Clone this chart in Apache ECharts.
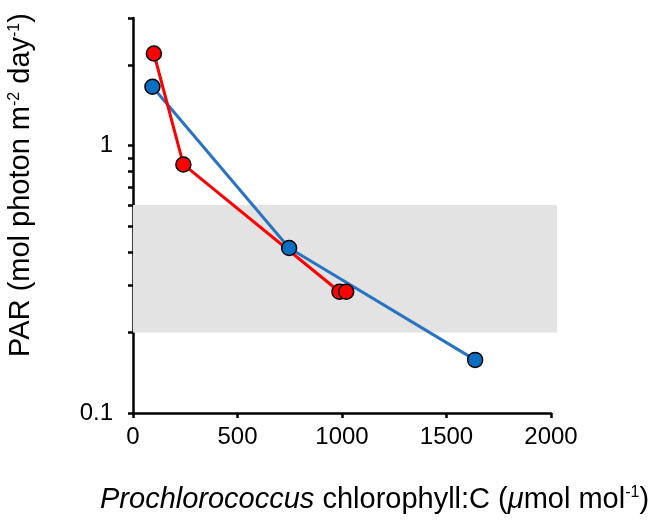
<!DOCTYPE html>
<html>
<head>
<meta charset="utf-8">
<script src="https://cdn.jsdelivr.net/npm/echarts@6/dist/echarts.min.js"></script>
<style>
  html, body { margin: 0; padding: 0; background: #fff; }
  #chart { width: 657px; height: 522px; }
</style>
</head>
<body>
<div id="chart"></div>
<script>
// chlorophyll:C (x) vs PAR (y)
var redX = [100, 241, 988, 1020];
var redY = [2.21, 0.85, 0.284, 0.284];
var blueX = [93, 747, 1637];
var blueY = [1.66, 0.414, 0.158];
// shaded PAR range
var bandX = [0, 2030];
var bandY = [0.2, 0.6];
var xTicks = [0, 500, 1000, 1500, 2000];
var yTicks = [0.1, 0.2, 0.3, 0.4, 0.5, 0.6, 0.7, 0.8, 0.9, 1, 2, 3];
var yLabels = [0.1, 1];

function pairs(xs, ys) {
  var out = [];
  for (var i = 0; i < xs.length; i++) out.push([xs[i], ys[i]]);
  return out;
}

var font = '"Liberation Sans", Arial, Helvetica, sans-serif';
var chart = echarts.init(document.getElementById('chart'));

var option = {
  animation: false,
  grid: [
    { left: 133, top: 18, width: 418, height: 395 },
    { left: 133, top: 18, width: 424, height: 395 }   // band grid, a bit wider
  ],
  xAxis: [
    {
      type: 'value', gridIndex: 0, min: xTicks[0], max: xTicks[xTicks.length - 1], interval: 500,
      axisLine: { lineStyle: { color: '#000', width: 2.5 } },
      axisTick: { length: 5, lineStyle: { color: '#000', width: 2.5 } },
      axisLabel: {
        color: '#000', fontSize: 24, fontFamily: font, margin: 12,
        formatter: function (v) { return String(v); }
      },
      splitLine: { show: false }
    },
    { type: 'value', gridIndex: 1, min: bandX[0], max: bandX[1], show: false }
  ],
  yAxis: [
    {
      type: 'log', gridIndex: 0, logBase: 10, min: 0.1, max: 3,
      axisLine: { lineStyle: { color: '#000', width: 2.5 } },
      axisTick: { length: 5, customValues: yTicks, lineStyle: { color: '#000', width: 2.5 } },
      axisLabel: {
        color: '#000', fontSize: 24, fontFamily: font, margin: 20,
        customValues: yLabels,
        formatter: function (v) { return String(+(+v).toPrecision(3)); }
      },
      splitLine: { show: false },
      minorTick: { show: false }
    },
    { type: 'log', gridIndex: 1, logBase: 10, min: 0.1, max: 3, show: false }
  ],
  graphic: [
    {
      type: 'text', left: 100, top: 485,
      style: {
        text: '{i|Prochlorococcus} chlorophyll:C ({i|\u03bc}mol mol{s|-1})',
        font: '29px ' + font, fill: '#000',
        rich: {
          i: { fontStyle: 'italic', fontSize: 29, fontFamily: font, fill: '#000' },
          s: { fontSize: 16, fontFamily: font, verticalAlign: 'top', fill: '#000' }
        }
      }
    },
    {
      type: 'text', x: 21, y: 185, rotation: Math.PI / 2,
      style: {
        text: 'PAR (mol photon m{s|-2} day{s|-1})',
        font: '29px ' + font, fill: '#000',
        align: 'center', verticalAlign: 'middle',
        rich: {
          s: { fontSize: 16, fontFamily: font, verticalAlign: 'top', fill: '#000' }
        }
      }
    }
  ],
  series: [
    {
      type: 'line', xAxisIndex: 1, yAxisIndex: 1, data: [], z: 1,
      markArea: {
        silent: true,
        itemStyle: { color: '#e3e3e3' },
        data: [[{ coord: [bandX[0], bandY[0]] }, { coord: [bandX[1], bandY[1]] }]]
      }
    },
    {
      name: 'blue line', type: 'line', data: pairs(blueX, blueY), z: 2,
      showSymbol: false, lineStyle: { color: '#2a73c2', width: 3 }
    },
    {
      name: 'red line', type: 'line', data: pairs(redX, redY), z: 3,
      showSymbol: false, lineStyle: { color: '#ff0000', width: 3 }
    },
    {
      name: 'red', type: 'scatter', data: pairs(redX, redY), z: 4,
      symbol: 'circle', symbolSize: 15,
      itemStyle: { color: '#ff0000', borderColor: '#000', borderWidth: 1.5, opacity: 1 }
    },
    {
      name: 'blue', type: 'scatter', data: pairs(blueX, blueY), z: 5,
      symbol: 'circle', symbolSize: 15,
      itemStyle: { color: '#0a6fc2', borderColor: '#000', borderWidth: 1.5, opacity: 1 }
    }
  ]
};

chart.setOption(option);
</script>
</body>
</html>
